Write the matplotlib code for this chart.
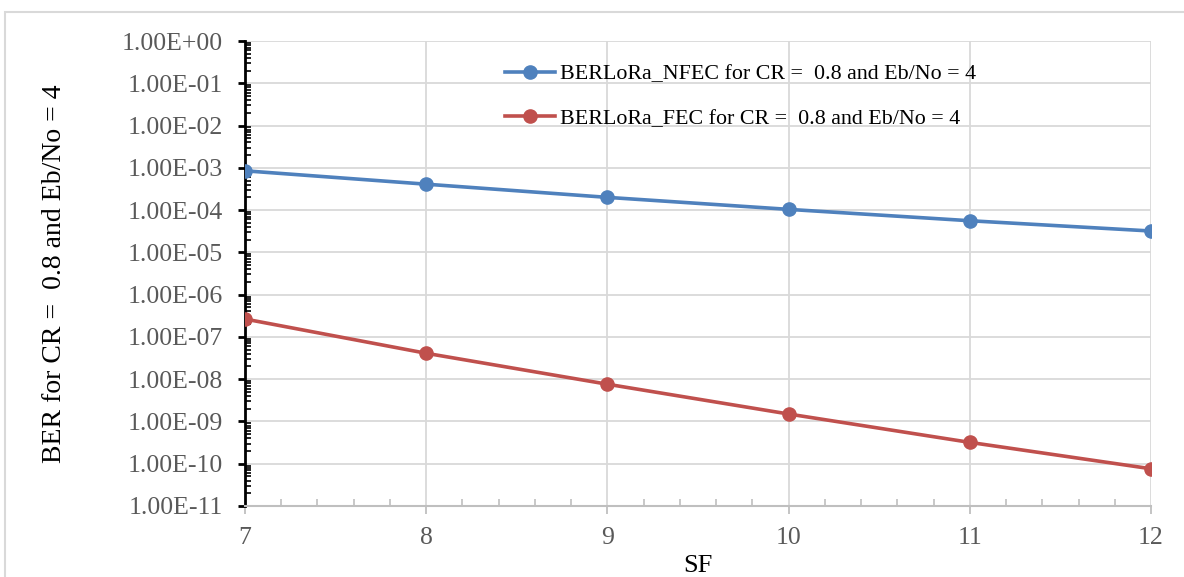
import matplotlib
matplotlib.use("Agg")
import matplotlib.pyplot as plt
from matplotlib.ticker import LogLocator, MultipleLocator, FixedLocator, NullFormatter
from matplotlib.patches import Rectangle

# spreading factor vs bit error rate, CR = 0.8, Eb/No = 4
sf = [7, 8, 9, 10, 11, 12]
ber_nfec = [8.5e-4, 4.1e-4, 2.0e-4, 1.04e-4, 5.6e-5, 3.2e-5]
ber_fec = [2.65e-7, 4.1e-8, 7.6e-9, 1.5e-9, 3.2e-10, 7.6e-11]
label_nfec = "BERLoRa_NFEC for CR =  0.8 and Eb/No = 4"
label_fec = "BERLoRa_FEC for CR =  0.8 and Eb/No = 4"
decades = list(range(-11, 1))

plt.rcParams["font.family"] = "Liberation Serif"

fig = plt.figure(figsize=(11.84, 5.77), dpi=100)
# outer chart border
fig.patches.append(Rectangle((5 / 1184, -0.1), 1.2, 1.1 - 12 / 577,
                             transform=fig.transFigure, fill=False,
                             edgecolor="#D9D9D9", linewidth=1.5))
ax = fig.add_axes([245 / 1184, 1 - 506 / 577, 906 / 1184, 465 / 577])

ax.plot(sf, ber_nfec, color="#4F81BD", lw=2.6, marker="o", ms=9.5, label=label_nfec, zorder=3)
ax.plot(sf, ber_fec, color="#C0504D", lw=2.6, marker="o", ms=9.5, label=label_fec, zorder=3)

ax.set_yscale("log")
ax.set_ylim(1e-11, 1)
ax.set_xlim(7, 12)

ax.yaxis.set_major_locator(FixedLocator([10.0 ** d for d in decades]))
ax.yaxis.set_minor_locator(LogLocator(base=10, subs=range(2, 10), numticks=20))
ax.yaxis.set_minor_formatter(NullFormatter())
ax.set_yticklabels(["{:.2E}".format(10.0 ** d) for d in decades])
ax.xaxis.set_major_locator(MultipleLocator(1))
ax.xaxis.set_minor_locator(MultipleLocator(0.2))

ax.grid(True, which="major", color="#D9D9D9", lw=1.3)
ax.set_axisbelow(True)
for s in ["top", "right"]:
    ax.spines[s].set_visible(False)
ax.spines["left"].set_color("black")
ax.spines["left"].set_linewidth(2)
ax.spines["bottom"].set_color("#BFBFBF")
ax.spines["bottom"].set_linewidth(1.5)

ax.tick_params(axis="y", which="major", direction="out", length=5, width=2, color="black",
               labelsize=18.5, labelcolor="#595959", pad=11)
ax.tick_params(axis="y", which="minor", direction="in", length=4, width=1.2, color="black")
ax.tick_params(axis="x", which="major", direction="out", length=6, width=1.3, color="#BFBFBF",
               labelsize=18.5, labelcolor="#595959", pad=9)
ax.tick_params(axis="x", which="minor", direction="in", length=5, width=1.2, color="#BFBFBF")

ax.set_xlabel("SF", fontsize=19)
ax.xaxis.set_label_coords(0.5, -0.106)
ax.set_ylabel("BER for CR =  0.8 and Eb/No = 4", fontsize=20)
ax.yaxis.set_label_coords(-0.197, 0.5)

ax.legend(loc="upper left", bbox_to_anchor=(505 / 1184, 1 - 64 / 577),
          bbox_transform=fig.transFigure, frameon=False, fontsize=15.8,
          handlelength=2.27, handletextpad=0.23, labelspacing=1.1, borderpad=0,
          borderaxespad=0)

fig.savefig("out.png", dpi=100)
